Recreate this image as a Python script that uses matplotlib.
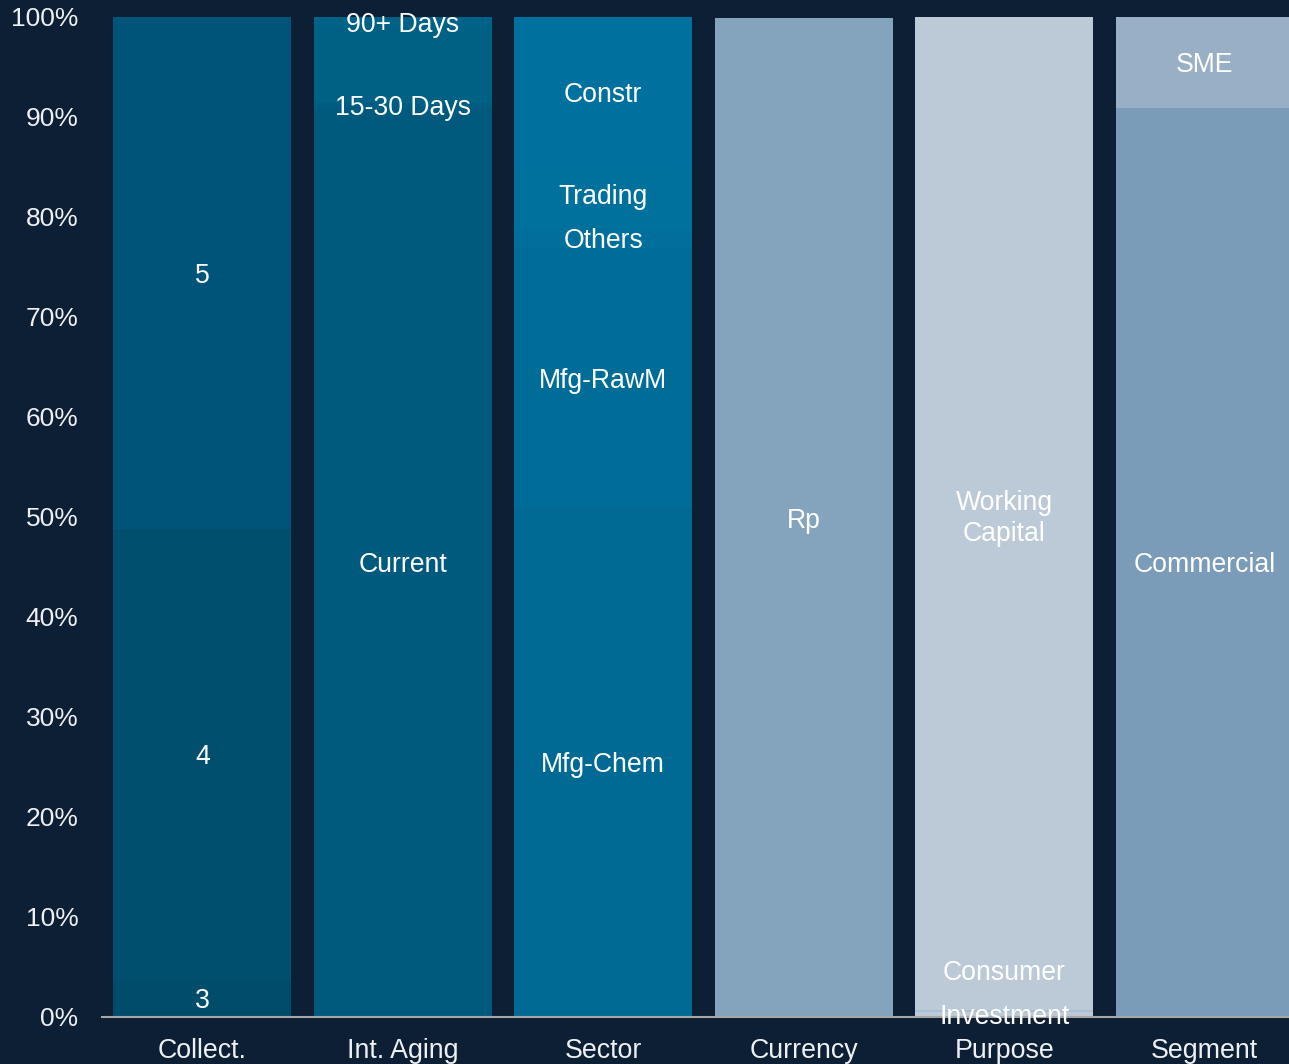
import matplotlib
matplotlib.use("Agg")
import matplotlib.pyplot as plt
from matplotlib.ticker import FuncFormatter

plt.rcParams["font.family"] = ["Liberation Sans", "DejaVu Sans"]

# Portfolio composition, % of total, stacked bottom to top
categories = ["Collect.", "Int. Aging", "Sector", "Currency", "Purpose", "Segment"]

collect_labels = ["3", "4", "5"]
collect_shares = [3.7, 45.1, 51.2]
collect_colors = ["#004c6b", "#004f6f", "#00547a"]

aging_labels = ["Current", "15-30 Days", "", "90+ Days"]
aging_shares = [91.0, 0.4, 7.6, 1.0]
aging_colors = ["#005a7e", "#005d82", "#006185", "#006286"]

sector_labels = ["Mfg-Chem", "Mfg-RawM", "Others", "Trading", "Constr"]
sector_shares = [51.0, 25.9, 2.0, 6.1, 15.0]
sector_colors = ["#006a95", "#006d99", "#006f9b", "#00709d", "#00719e"]

currency_labels = ["Rp"]
currency_shares = [99.9]
currency_colors = ["#84a4bd"]

purpose_labels = ["Investment", "Consumer", "Working\nCapital"]
purpose_shares = [0.5, 0.2, 99.3]
purpose_colors = ["#bccad7", "#a9bed0", "#bccad7"]

segment_labels = ["Commercial", "SME"]
segment_shares = [90.9, 9.1]
segment_colors = ["#7a9cb8", "#98afc6"]

stacks = [
    (collect_labels, collect_shares, collect_colors),
    (aging_labels, aging_shares, aging_colors),
    (sector_labels, sector_shares, sector_colors),
    (currency_labels, currency_shares, currency_colors),
    (purpose_labels, purpose_shares, purpose_colors),
    (segment_labels, segment_shares, segment_colors),
]

BG = "#0d1f35"
TEXT = "#ffffff"
BAR_WIDTH = 0.888
MIN_LABEL_GAP = 4.4  # minimum vertical spacing between labels, in %

fig = plt.figure(figsize=(12.89, 10.64), dpi=100, facecolor=BG)
ax = fig.add_axes([102 / 1289, 47 / 1064, 1203 / 1289, 1000 / 1064])
ax.set_facecolor(BG)

for i, (labels, shares, colors) in enumerate(stacks):
    bottom = 0.0
    prev_y = None
    for lab, val, col in zip(labels, shares, colors):
        ax.bar(i, val, bottom=bottom, width=BAR_WIDTH, color=col, linewidth=0)
        y = bottom + val / 2
        if lab:
            if prev_y is not None and y < prev_y + MIN_LABEL_GAP:
                y = prev_y + MIN_LABEL_GAP
            ax.text(i, y, lab, ha="center", va="center_baseline", color=TEXT,
                    fontsize=19.2, zorder=5, linespacing=1.22, clip_on=False)
            prev_y = y
        bottom += val

ax.set_xlim(-0.5, 5.5)
ax.set_ylim(0, 100)
ax.set_yticks(range(0, 101, 10))
ax.yaxis.set_major_formatter(FuncFormatter(lambda v, _: f"{v:.0f}%"))
ax.set_xticks(range(len(categories)))
ax.set_xticklabels(categories)

for side in ("top", "right", "left"):
    ax.spines[side].set_visible(False)
ax.spines["bottom"].set_color("#a6a6a6")
ax.spines["bottom"].set_linewidth(1.5)
ax.spines["bottom"].set_zorder(4)

ax.tick_params(axis="y", length=0, pad=17, labelsize=19, labelcolor="#eef0f3")
ax.tick_params(axis="x", length=0, pad=15, labelsize=19.3, labelcolor="#eef0f3")

fig.savefig("out.png", dpi=100, facecolor=BG)
